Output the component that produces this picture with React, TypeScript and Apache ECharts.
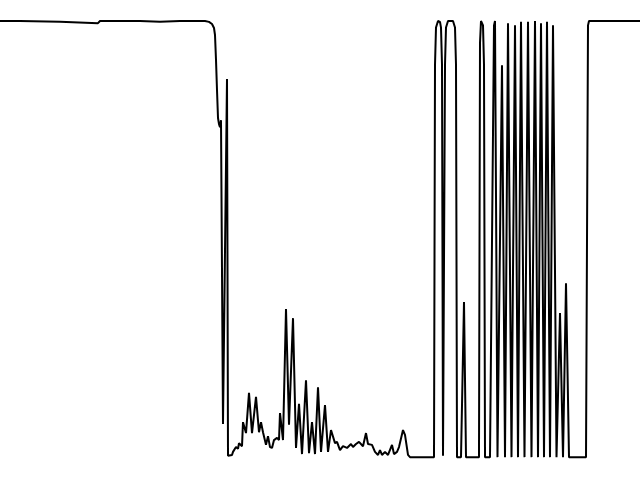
import React, { useEffect, useRef } from "react";
import * as echarts from "echarts";

// Sample positions (time units) and signal level (% of full scale)
const times: number[] = [
  0, 20, 60, 98, 100, 140, 160, 180, 200, 205, 209, 212, 214, 215, 216, 217, 218, 219, 220, 221, 223, 227, 228,
  232, 233, 236, 238, 239, 242, 243, 246, 249, 252, 256, 259, 261, 263, 266, 268, 270, 272, 274, 277, 279, 280,
  283, 286, 289, 293, 296, 299, 302, 306, 309, 312, 315, 318, 321, 325, 328, 331, 335, 337, 340, 343, 347, 351,
  353, 356, 359, 363, 366, 368, 372, 375, 378, 380, 382, 385, 388, 392, 394, 397, 399, 403, 405, 408, 410, 432,
  434, 435, 436, 438, 440, 441, 442, 443, 445, 446, 448, 453, 455, 456, 457, 461, 464, 466, 479, 480, 481, 483,
  484, 485, 490, 494, 495, 497.5, 502, 505, 508, 511.5, 515, 518, 521, 524.5, 528, 531.5, 535, 538, 541, 544,
  547, 550, 553, 556.5, 560, 563, 566, 569, 586, 588, 589, 640,
];

const levels: number[] = [
  100, 100, 99.8, 99.5, 100, 100, 99.8, 100, 100, 100, 99.8, 99.3, 98.4, 96.8, 91.1, 84.2, 77.8, 76.4, 75.7, 77.3, 7.8, 86.7, 0.5,
  0.7, 1.4, 2.5, 2.1, 3.4, 2.7, 8.2, 5.7, 14.9, 5.7, 14.0, 5.9, 8.2, 5.9, 3.0, 5.0, 2.5, 2.3, 4.1, 4.6, 4.1, 10.3,
  4.1, 34.1, 7.6, 32.0, 2.3, 12.4, 0.9, 17.8, 1.1, 8.2, 0.9, 16.2, 1.4, 12.1, 1.4, 6.4, 3.4, 3.7, 1.8, 2.7, 2.3, 3.2,
  2.5, 3.2, 3.7, 2.7, 5.7, 3.2, 3.0, 1.4, 0.7, 1.8, 0.7, 1.4, 0.7, 3.0, 0.9, 1.4, 2.5, 6.4, 5.3, 0.7, 0.2, 0.2,
  0.2, 90, 98.5, 100, 99.8, 98.5, 90, 0.5, 90, 98.5, 100, 100, 98.5, 90, 0.2, 0.2, 35.7, 0.2, 0.2, 95, 100, 99,
  90, 0.2, 0.2, 99, 100, 0.2, 89.9, 0.2, 99.5, 0.2, 99, 0.2, 99.8, 0.2, 99.8, 0.2, 100, 0.2, 99.5, 0.2,
  99.8, 0.2, 99, 0.2, 33.2, 0.2, 40.0, 0.2, 0.2, 99, 100, 100,
];

export default function App() {
  const ref = useRef<HTMLDivElement>(null);
  useEffect(() => {
    if (!ref.current) return;
    const chart = echarts.init(ref.current, undefined, { renderer: "svg" });
    const data = times.map((t, i) => [t, levels[i]]);
    chart.setOption({
      animation: false,
      backgroundColor: "#ffffff",
      grid: { left: 0, right: 0, top: 21, bottom: 22 },
      xAxis: { type: "value", min: 0, max: 640, show: false },
      yAxis: { type: "value", min: 0, max: 100, show: false },
      series: [
        {
          type: "line",
          data,
          showSymbol: false,
          clip: false,
          lineStyle: { color: "#000000", width: 2 },
          smooth: false,
        },
      ],
    });
    return () => chart.dispose();
  }, []);
  return (
    <div
      ref={ref}
      style={{ position: "fixed", left: 0, top: 0, width: 640, height: 480 }}
    />
  );
}
